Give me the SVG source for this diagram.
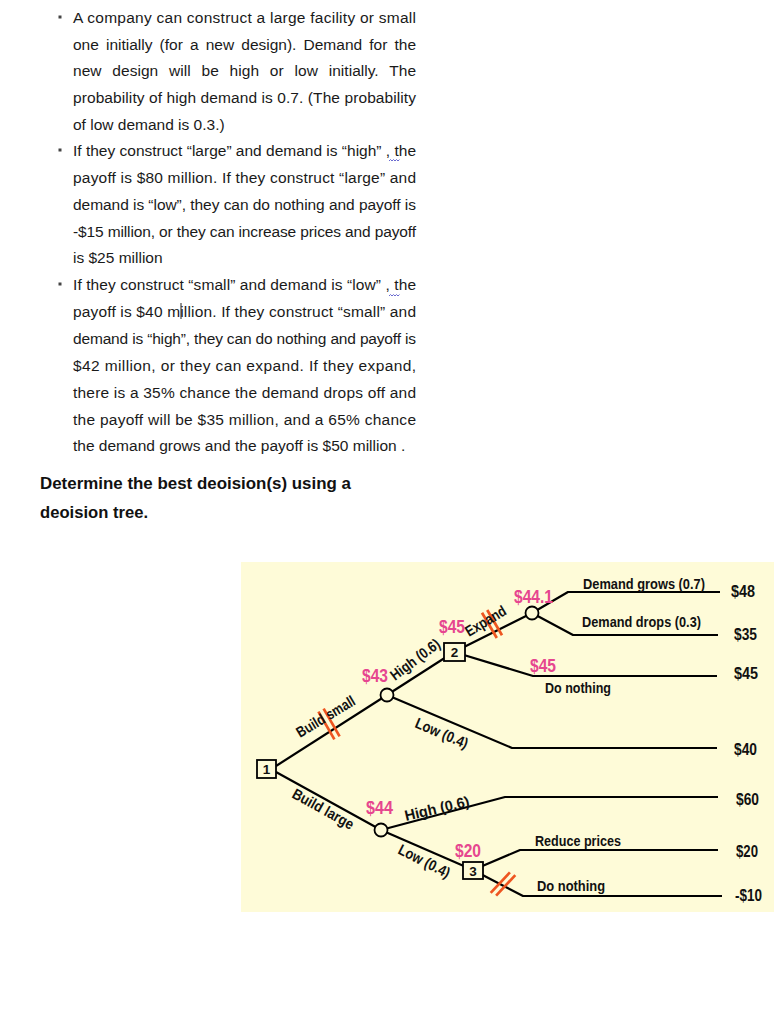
<svg xmlns="http://www.w3.org/2000/svg" width="774" height="1024" viewBox="0 0 774 1024">
<style>
.p{font-family:"Liberation Sans",Arial,sans-serif;font-size:15.5px;fill:#1a1a1a}
.b{fill:#444}
.h{font-family:"Liberation Sans",Arial,sans-serif;font-size:16.5px;font-weight:bold;fill:#111}
.e{stroke:#000;stroke-width:2.2;fill:none;stroke-linejoin:round}
.n{fill:#fefbd8;stroke:#000;stroke-width:1.8}
.l{font-family:"Liberation Sans",Arial,sans-serif;font-weight:bold;font-size:15px;fill:#111}
.v{font-family:"Liberation Sans",Arial,sans-serif;font-weight:bold;font-size:17px;fill:#111}
.k{font-family:"Liberation Sans",Arial,sans-serif;font-weight:bold;font-size:18.5px;fill:#e6468f}
.num{font-family:"Liberation Sans",Arial,sans-serif;font-weight:bold;font-size:13.5px;fill:#111}
.x{stroke:#ee5520;stroke-width:2.7}
.sq{stroke:#6a6ad0;stroke-width:1;fill:none}
</style>

<!-- problem text -->
<g id="text">
  <rect class="b" x="58.5" y="15.5" width="3" height="3"/>
  <text class="p" x="73" y="23" textLength="343" lengthAdjust="spacing">A company can construct a large facility or small</text>
  <text class="p" x="73" y="50" word-spacing="2.8" textLength="343" lengthAdjust="spacing">one initially (for a new design). Demand for the</text>
  <text class="p" x="73" y="76" word-spacing="6.5" textLength="343" lengthAdjust="spacing">new design will be high or low initially. The</text>
  <text class="p" x="73" y="103" textLength="343" lengthAdjust="spacing">probability of high demand is 0.7. (The probability</text>
  <text class="p" x="73" y="130">of low demand is 0.3.)</text>

  <rect class="b" x="58.5" y="148.5" width="3" height="3"/>
  <text class="p" x="73" y="156" textLength="343" lengthAdjust="spacing">If they construct “large” and demand is “high” , the</text>
  <text class="p" x="73" y="183" textLength="343" lengthAdjust="spacing">payoff is $80 million. If they construct “large” and</text>
  <text class="p" x="73" y="210" textLength="343" lengthAdjust="spacing">demand is “low”, they can do nothing and payoff is</text>
  <text class="p" x="73" y="237" textLength="343" lengthAdjust="spacing">-$15 million, or they can increase prices and payoff</text>
  <text class="p" x="73" y="263">is $25 million</text>

  <rect class="b" x="58.5" y="282.5" width="3" height="3"/>
  <text class="p" x="73" y="290" textLength="343" lengthAdjust="spacing">If they construct “small” and demand is “low” , the</text>
  <text class="p" x="73" y="317" textLength="343" lengthAdjust="spacing">payoff is $40 million. If they construct “small” and</text>
  <text class="p" x="73" y="344" textLength="343" lengthAdjust="spacing">demand is “high”, they can do nothing and payoff is</text>
  <text class="p" x="73" y="371" textLength="343" lengthAdjust="spacing">$42 million, or they can expand.  If they expand,</text>
  <text class="p" x="73" y="398" textLength="343" lengthAdjust="spacing">there is a 35% chance the demand drops off and</text>
  <text class="p" x="73" y="425" textLength="343" lengthAdjust="spacing">the payoff will be $35 million, and a 65% chance</text>
  <text class="p" x="73" y="451">the demand grows and the payoff is $50 million .</text>

  <path class="sq" d="M389,161 l1.5,-1.5 l1.5,1.5 l1.5,-1.5 l1.5,1.5 l1.5,-1.5 l1.5,1.5 l1.5,-1.5"/>
  <path class="sq" d="M389,296 l1.5,-1.5 l1.5,1.5 l1.5,-1.5 l1.5,1.5 l1.5,-1.5 l1.5,1.5 l1.5,-1.5"/>
  <line x1="181" y1="303" x2="181" y2="319" stroke="#222" stroke-width="1"/>

  <text class="h" x="40" y="489" textLength="311" lengthAdjust="spacingAndGlyphs">Determine the best deoision(s) using a</text>
  <text class="h" x="40" y="518" textLength="108" lengthAdjust="spacingAndGlyphs">deoision tree.</text>
</g>

<!-- tree background -->
<rect x="241" y="562" width="533" height="350" fill="#fefbd8"/>

<g id="connectors">
  <path class="e" d="M276,766 L387,695"/>
  <path class="e" d="M276,772 L381,830"/>
  <path class="e" d="M387,695 L454,652"/>
  <path class="e" d="M387,695 L512,748 L717,748"/>
  <path class="e" d="M454,652 L532,613"/>
  <path class="e" d="M454,652 L533,676 L717,676"/>
  <path class="e" d="M532,613 L568,592 L720,592"/>
  <path class="e" d="M532,613 L573,635 L718,635"/>
  <path class="e" d="M381,830 L505,797 L718,797"/>
  <path class="e" d="M381,830 L473,870"/>
  <path class="e" d="M473,870 L520,850 L718,850"/>
  <path class="e" d="M473,870 L523,896 L722,896"/>
</g>

<g id="prune-marks">
  <line class="x" x1="318.4" y1="711.6" x2="334.4" y2="739.4"/>
  <line class="x" x1="323.6" y1="708.6" x2="339.6" y2="736.4"/>
  <line class="x" x1="482" y1="612.8" x2="496.8" y2="638"/>
  <line class="x" x1="487.2" y1="610" x2="502" y2="635.2"/>
  <line class="x" x1="490.7" y1="892.9" x2="509.9" y2="872.3"/>
  <line class="x" x1="496.1" y1="895.7" x2="515.3" y2="875.1"/>
</g>

<g id="node-1">
  <rect class="n" x="257" y="760" width="19" height="18"/>
  <text class="num" x="266.5" y="774" text-anchor="middle">1</text>
</g>
<g id="node-2">
  <rect class="n" x="444" y="643" width="21" height="18"/>
  <text class="num" x="454.5" y="657" text-anchor="middle">2</text>
  <text class="k" x="439" y="633" textLength="26" lengthAdjust="spacingAndGlyphs">$45</text>
</g>
<g id="node-3">
  <rect class="n" x="463" y="862" width="20" height="17"/>
  <text class="num" x="473" y="875.5" text-anchor="middle">3</text>
  <text class="k" x="455" y="857" textLength="26" lengthAdjust="spacingAndGlyphs">$20</text>
</g>
<g id="chance-small">
  <circle class="n" cx="387" cy="695" r="6.5"/>
  <text class="k" x="362" y="682" textLength="26" lengthAdjust="spacingAndGlyphs">$43</text>
</g>
<g id="chance-expand">
  <circle class="n" cx="532" cy="613" r="6.5"/>
  <text class="k" x="514" y="603" textLength="39" lengthAdjust="spacingAndGlyphs">$44.1</text>
</g>
<g id="chance-large">
  <circle class="n" cx="381" cy="830" r="6.5"/>
  <text class="k" x="366" y="814" textLength="27" lengthAdjust="spacingAndGlyphs">$44</text>
</g>

<g id="edge-labels">
  <text class="l" transform="translate(300,738) rotate(-31)" textLength="66" lengthAdjust="spacingAndGlyphs">Build small</text>
  <text class="l" transform="translate(395,681) rotate(-37)" textLength="58" lengthAdjust="spacingAndGlyphs">High (0.6)</text>
  <text class="l" transform="translate(469,637) rotate(-31)" textLength="45" lengthAdjust="spacingAndGlyphs">Expand</text>
  <text class="l" transform="translate(414,727) rotate(23)" textLength="56" lengthAdjust="spacingAndGlyphs">Low (0.4)</text>
  <text class="l" transform="translate(291,797) rotate(29)" textLength="68" lengthAdjust="spacingAndGlyphs">Build large</text>
  <text class="l" transform="translate(406,821) rotate(-13)" textLength="66" lengthAdjust="spacingAndGlyphs">High (0.6)</text>
  <text class="l" transform="translate(397,853) rotate(27)" textLength="56" lengthAdjust="spacingAndGlyphs">Low (0.4)</text>

  <text class="l" x="583" y="589" textLength="122" lengthAdjust="spacingAndGlyphs">Demand grows (0.7)</text>
  <text class="l" x="582" y="627" textLength="119" lengthAdjust="spacingAndGlyphs">Demand drops (0.3)</text>
  <text class="k" x="530" y="672" textLength="26" lengthAdjust="spacingAndGlyphs">$45</text>
  <text class="l" x="545" y="693" textLength="66" lengthAdjust="spacingAndGlyphs">Do nothing</text>
  <text class="l" x="535" y="846" textLength="86" lengthAdjust="spacingAndGlyphs">Reduce prices</text>
  <text class="l" x="537" y="891" textLength="68" lengthAdjust="spacingAndGlyphs">Do nothing</text>
</g>

<g id="payoffs">
  <text class="v" x="731" y="597" textLength="24" lengthAdjust="spacingAndGlyphs">$48</text>
  <text class="v" x="734" y="640" textLength="23" lengthAdjust="spacingAndGlyphs">$35</text>
  <text class="v" x="734" y="679" textLength="24" lengthAdjust="spacingAndGlyphs">$45</text>
  <text class="v" x="734" y="755" textLength="23" lengthAdjust="spacingAndGlyphs">$40</text>
  <text class="v" x="736" y="805" textLength="23" lengthAdjust="spacingAndGlyphs">$60</text>
  <text class="v" x="736" y="857" textLength="22" lengthAdjust="spacingAndGlyphs">$20</text>
  <text class="v" x="735" y="901" textLength="27" lengthAdjust="spacingAndGlyphs">-$10</text>
</g>
</svg>
